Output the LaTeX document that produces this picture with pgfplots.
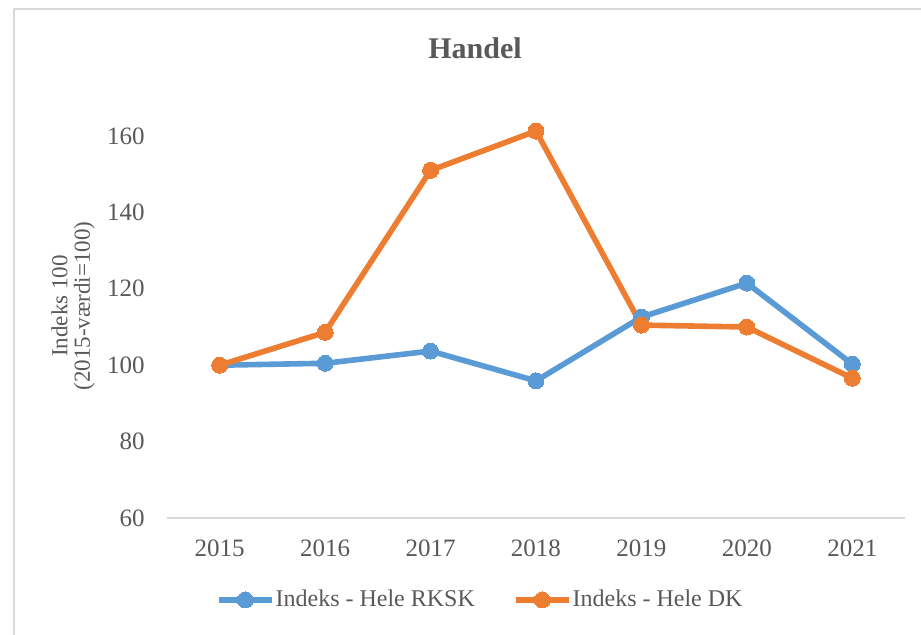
\documentclass[border=0pt]{standalone}
\usepackage{pgfplots}
\pgfplotsset{compat=1.18}
\usepackage{fontspec}
\setmainfont{Liberation Serif}
\definecolor{rksk}{HTML}{5B9BD5}
\definecolor{dk}{HTML}{ED7D31}
\definecolor{txt}{HTML}{595959}
\definecolor{axisgray}{HTML}{D9D9D9}

\begin{document}
\begin{tikzpicture}
\path[use as bounding box] (-83.5pt,-58pt) rectangle (377pt,259pt);
\draw[axisgray,line width=1pt] (-76.5pt,-60pt) -- (-76.5pt,254.5pt) -- (380pt,254.5pt);
\begin{axis}[scale only axis, width=369pt, height=200.55pt,
  xmin=2014.5, xmax=2021.5, ymin=60, ymax=165,
  xtick={2015,2016,2017,2018,2019,2020,2021},
  ytick={60,80,100,120,140,160},
  /pgf/number format/.cd, assume math mode=true, 1000 sep={}, /pgfplots/.cd,
  axis x line=bottom, axis y line=left,
  x axis line style={-,axisgray,line width=0.75pt},
  y axis line style={draw=none},
  major tick length=0pt,
  xticklabel style={anchor=north,inner sep=0pt,yshift=-10.5pt,font=\fontsize{12.5}{14}\selectfont,text=txt},
  yticklabel style={anchor=east,inner sep=0pt,xshift=-11pt,font=\fontsize{12.5}{14}\selectfont,text=txt},
  legend style={at={(axis description cs:0.0655,-0.2044)},anchor=west,draw=none,fill=none,
    inner sep=0pt,legend columns=2,font=\fontsize{12}{14}\selectfont,text=txt,
    nodes={inner sep=0.4pt},
    /tikz/every even column/.append style={column sep=18.5pt}},
  legend image code/.code={\draw[mark repeat=2,mark phase=2] plot coordinates {(0cm,0cm) (0.47cm,0cm) (0.94cm,0cm)};},
]
\addplot[rksk,line width=2.8pt,mark=*,mark size=4pt,mark options={solid,fill=rksk,draw=rksk,line width=0pt}]
  coordinates {(2015,100) (2016,100.5) (2017,103.7) (2018,95.9) (2019,112.6) (2020,121.5) (2021,100.3)};
\addlegendentry{Indeks - Hele RKSK}
\addplot[dk,line width=2.8pt,mark=*,mark size=4pt,mark options={solid,fill=dk,draw=dk,line width=0pt}]
  coordinates {(2015,100) (2016,108.6) (2017,151.0) (2018,161.3) (2019,110.5) (2020,110.0) (2021,96.6)};
\addlegendentry{Indeks - Hele DK}
\end{axis}
\node[anchor=base,font=\fontsize{15}{17}\selectfont\bfseries,text=txt] at (154pt,230pt) {Handel};
\node[rotate=90,align=center,font=\fontsize{11.5}{11.25}\selectfont,text=txt] at (-47pt,106pt) {Indeks 100\\(2015-værdi=100)};
\end{tikzpicture}
\end{document}
